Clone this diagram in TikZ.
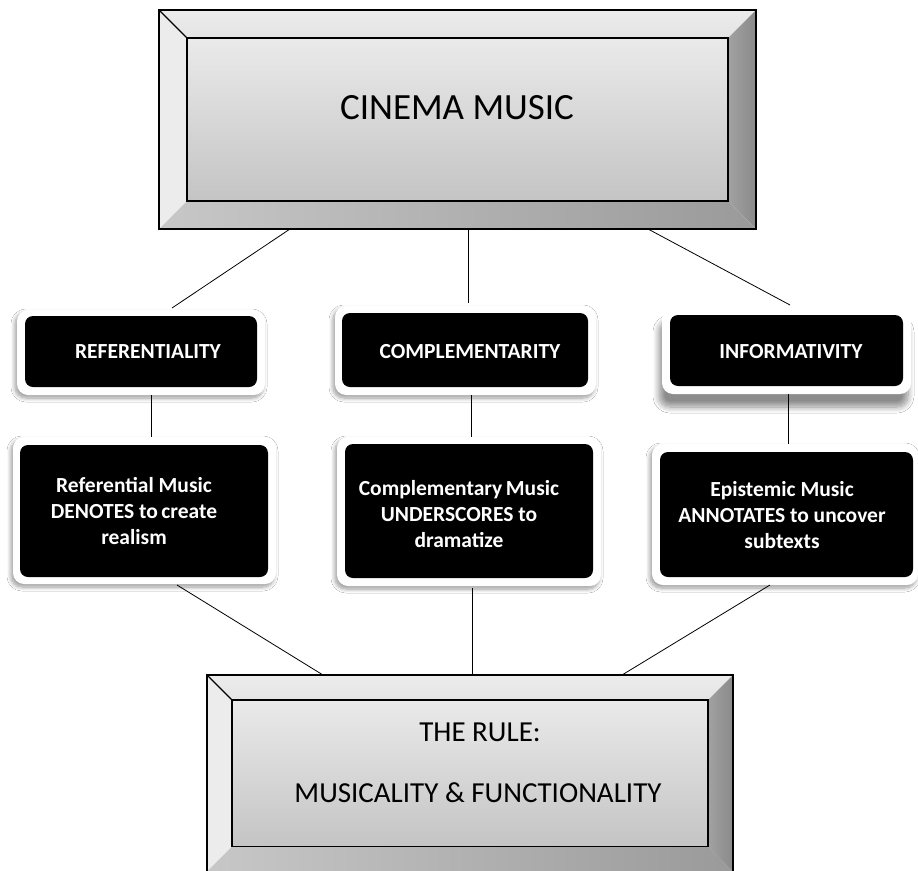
\documentclass[tikz,border=0pt]{standalone}
\usepackage{fontspec}
\setmainfont{Carlito}
\usetikzlibrary{shadows.blur}

% Bevelled (picture-frame) box: #1,#2 = outer top-left, #3,#4 = outer bottom-right, #5 = bevel width
\newcommand\bevelframe[5]{%
  \shade[top color=bevtop!70!white, bottom color=bevtop]
    (#1,#2) -- (#3,#2) -- ({#3-#5},{#2+#5}) -- ({#1+#5},{#2+#5}) -- cycle;
  \fill[bevleft]
    (#1,#2) -- ({#1+#5},{#2+#5}) -- ({#1+#5},{#4-#5}) -- (#1,#4) -- cycle;
  \shade[left color=bevright!80!white, right color=bevright]
    (#3,#2) -- (#3,#4) -- ({#3-#5},{#4-#5}) -- ({#3-#5},{#2+#5}) -- cycle;
  \shade[left color=bevbot!55!white, right color=bevbot]
    (#1,#4) -- (#3,#4) -- ({#3-#5},{#4-#5}) -- ({#1+#5},{#4-#5}) -- cycle;
  \shade[draw=black, line width=1.2pt, top color=facetop, bottom color=facebot]
    ({#1+#5},{#2+#5}) rectangle ({#3-#5},{#4-#5});
  \draw[line width=1.2pt] (#1,#2) -- ({#1+#5},{#2+#5});
  \draw[line width=1.4pt] (#1,#2) rectangle (#3,#4);
}

\definecolor{bevtop}{HTML}{E4E4E4}
\definecolor{bevleft}{HTML}{ECECEC}
\definecolor{bevright}{HTML}{8A8A8A}
\definecolor{bevbot}{HTML}{9A9A9A}
\definecolor{facetop}{HTML}{EAEAEA}
\definecolor{facebot}{HTML}{C4C4C4}

\begin{document}
\begin{tikzpicture}[x=1pt, y=-1pt,
  connector/.style={draw=black, line width=0.8pt},
  halo/.style={draw=none, fill=white, rounded corners=11pt, inner sep=0pt,
    blur shadow={shadow xshift=-2pt, shadow yshift=-3pt, shadow blur radius=4pt,
      shadow blur steps=8, shadow opacity=40}},
  deephalo/.style={draw=none, fill=white, rounded corners=11pt, inner sep=0pt,
    blur shadow={shadow xshift=-3pt, shadow yshift=-13pt, shadow blur radius=6pt,
      shadow blur steps=10, shadow opacity=45}},
  blackbox/.style={draw=none, fill=black, rounded corners=8pt, inner sep=0pt},
  headtext/.style={text=white, font=\fontsize{21.5}{25}\selectfont\bfseries, inner sep=0pt},
  bodytext/.style={text=white, font=\fontsize{21.5}{26}\selectfont\bfseries, align=center, inner sep=0pt},
  bigtext/.style={text=black, inner sep=0pt}]

\clip (0,0) rectangle (918,870);
\fill[white] (0,0) rectangle (918,870);

% ---- top frame ----
\bevelframe{159}{10}{756}{229}{28}
\node[bigtext, font=\fontsize{37}{44}\selectfont] (cinema) at (457,108) {CINEMA MUSIC};

% ---- bottom frame (its lower edge sits on the page edge) ----
\bevelframe{207}{675}{733}{871.5}{25}
\node[bigtext, font=\fontsize{29}{34}\selectfont] (rule) at (480,732) {THE RULE:};
\node[bigtext, font=\fontsize{29}{34}\selectfont] (mf) at (478,793) {MUSICALITY \& FUNCTIONALITY};

% ---- first row: white halos and black boxes ----
\node[halo, minimum width=248, minimum height=85] (hrefl) at (141,352.5) {};
\node[blackbox, minimum width=232, minimum height=71] (refl) at (141,351.5) {};
\node[headtext] (refltext) at (148,352) {REFERENTIALITY};

\node[halo, minimum width=261, minimum height=89] (hcomp) at (465.5,350.5) {};
\node[blackbox, minimum width=246, minimum height=74] (comp) at (465,350) {};
\node[headtext] (comptext) at (470,352) {COMPLEMENTARITY};

\node[deephalo, minimum width=249, minimum height=86] (hinfo) at (786.5,351) {};
\node[blackbox, minimum width=233, minimum height=71] (info) at (786.5,350.5) {};
\node[headtext] (infotext) at (791,352) {INFORMATIVITY};

% ---- second row ----
\node[halo, minimum width=263, minimum height=147] (hrefm) at (144.5,510.5) {};
\node[blackbox, minimum width=248, minimum height=132] (refm) at (144,511) {};
\node[bodytext] (refmtext) at (134,511) {Referential Music\\DENOTES to\,create\\realism};

\node[halo, minimum width=264, minimum height=149] (hcomm) at (469,511.5) {};
\node[blackbox, minimum width=248, minimum height=134] (comm) at (469,511) {};
\node[bodytext] (commtext) at (459,514) {Complementary\,Music\\UNDERSCORES to\\dramatize};

\node[halo, minimum width=266, minimum height=141] (hepim) at (785,514.5) {};
\node[blackbox, minimum width=253, minimum height=125] (epim) at (786.5,514.5) {};
\node[bodytext] (epimtext) at (782,515) {Epistemic Music\\ANNOTATES to uncover\\subtexts};

% ---- connector end points ----
\coordinate (t1) at (290,229);
\coordinate (t2) at (468,229);
\coordinate (t3) at (648,229);
\coordinate (a1) at (172,308);
\coordinate (a2) at (468,303);
\coordinate (a3) at (790,305);
\coordinate (b1) at (177,585);
\coordinate (b2) at (472,588);
\coordinate (b3) at (770,585);
\coordinate (r1) at (323,675);
\coordinate (r2) at (472,675);
\coordinate (r3) at (622,675);

% ---- connectors ----
\draw[connector] (t1) -- (a1);
\draw[connector] (t2) -- (a2);
\draw[connector] (t3) -- (a3);
\draw[connector] (hrefl.south -| 151,0) -- (hrefm.north -| 151,0);
\draw[connector] (hcomp.south -| 471,0) -- (hcomm.north -| 471,0);
\draw[connector] (hinfo.south -| 788,0) -- (hepim.north -| 788,0);
\draw[connector] (b1) -- (r1);
\draw[connector] (b2) -- (r2);
\draw[connector] (b3) -- (r3);
\end{tikzpicture}
\end{document}
